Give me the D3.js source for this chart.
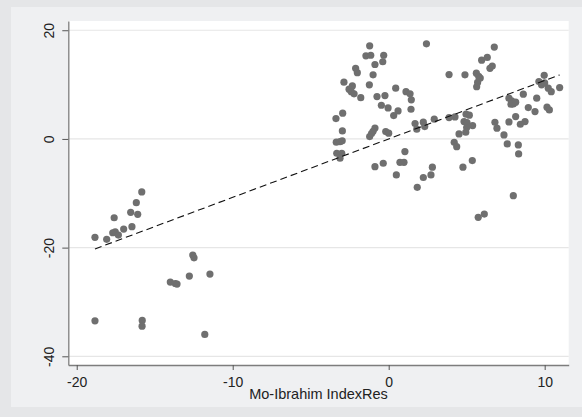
<!DOCTYPE html>
<html>
<head>
<meta charset="utf-8">
<script src="https://cdn.jsdelivr.net/npm/d3@7"></script>
<style>
  html, body { margin: 0; padding: 0; background: #e5e6e8; }
  svg { display: block; }
  text { font-family: "Liberation Sans", Arial, sans-serif; fill: #222; }
</style>
</head>
<body>
<svg id="chart" width="582" height="417"></svg>
<script>
// ---- data ----
const xValues = [
  // left group
  -18.83, -18.08, -17.6, -17.69, -17.53, -17.33, -16.99, -16.46, -16.54, -16.09, -16.18, -15.83,
  -18.83, -15.8, -15.81, -14.0, -13.68, -13.57, -12.78, -12.56, -12.48, -11.46, -11.79,
  // middle group
  2.42, -1.22, -1.46, -1.15, -0.32, -0.38, -0.88, -2.12, -2.01, -1.0, -2.87, -1.24,
  -2.33, -2.54, -2.4, -2.22, -1.79, -0.75, -0.24, 0.45, 1.11, 1.37, 1.45, -0.47,
  -0.04, 0.32, 0.6, 1.43, -3.38, -2.95, -2.97, -1.22, -1.1, -1.0, -0.88, -0.19,
  0.0, 1.69, 2.22, 2.31, 2.92, 1.8, -3.36, -3.12, -2.98, -3.33, -3.01, -3.12,
  1.04, -0.88, -0.35, 0.72, 0.98, 0.49, 2.8, 2.71, 2.22, 1.83,
  // right group
  6.77, 5.96, 6.32, 6.49, 6.64, 3.87, 4.89, 5.62, 5.77, 5.87, 5.7, 5.64,
  9.97, 9.63, 9.8, 10.0, 10.23, 10.42, 10.96, 8.63, 9.49, 7.71, 7.88, 7.99,
  7.84, 8.14, 8.95, 9.38, 10.15, 10.3, 8.14, 8.74, 8.44, 7.71, 6.81, 6.94,
  7.39, 7.6, 8.31, 8.33, 3.87, 4.25, 4.96, 5.17, 4.83, 5.02, 5.38, 5.0,
  4.94, 4.51, 4.2, 4.36, 4.76, 5.36, 7.99, 5.74, 6.13
];
const yValues = [
  // left group
  -18.1, -18.48, -14.5, -17.26, -17.08, -17.69, -16.58, -16.15, -13.5, -13.87, -11.73, -9.76,
  -33.47, -33.4, -34.45, -26.35, -26.6, -26.7, -25.24, -21.37, -21.87, -24.87, -35.98,
  // middle group
  17.5, 17.13, 15.3, 15.4, 15.4, 14.2, 13.7, 13.0, 12.2, 11.8, 10.44, 9.95,
  9.76, 9.16, 8.7, 8.3, 7.6, 7.8, 7.98, 9.33, 8.7, 8.3, 7.2, 6.2,
  5.7, 4.3, 5.16, 5.46, 3.75, 4.73, 1.47, 0.43, 1.0, 1.4, 2.0, 1.35,
  1.05, 2.82, 3.08, 2.27, 3.63, 1.8, -0.6, -0.5, -0.35, -2.64, -2.64, -3.56,
  -2.33, -5.1, -4.48, -4.3, -4.3, -6.63, -5.2, -6.63, -7.1, -8.9,
  // right group
  16.9, 14.5, 15.0, 13.0, 13.4, 11.85, 11.8, 12.1, 11.5, 11.2, 10.4, 9.6,
  11.7, 10.56, 9.95, 10.3, 9.34, 8.7, 9.45, 8.23, 7.5, 7.5, 7.0, 6.45,
  6.4, 6.76, 5.77, 5.03, 5.84, 5.34, 4.11, 3.19, 2.7, 3.13, 3.07, 1.97,
  0.74, -0.92, -1.1, -2.76, 3.93, 4.05, 4.55, 4.37, 3.19, 3.0, 2.45, 2.08,
  1.23, 0.92, -0.61, -1.42, -5.2, -3.99, -10.44, -14.43, -13.82
];
// fitted line
const fitIntercept = 0.0;
const fitSlope = 1.075;

const xTicks = [-20, -10, 0, 10];
const yTicks = [-40, -20, 0, 20];
const xTitle = "Mo-Ibrahim IndexRes";

// ---- layout ----
const W = 582, H = 417;
const plot = { left: 68.3, right: 568.7, top: 21, bottom: 365 };
const fmt = d => String(d); // plain hyphen-minus as in the reference

const svg = d3.select("#chart");

// background frame
svg.append("rect").attr("x", 0).attr("y", 0).attr("width", W).attr("height", H).attr("fill", "#e5e6e8");
svg.append("rect").attr("x", 11).attr("y", 7).attr("width", W - 11).attr("height", 400).attr("fill", "#eff0f2");

// plot region
svg.append("rect")
  .attr("x", plot.left).attr("y", plot.top)
  .attr("width", plot.right - plot.left).attr("height", plot.bottom - plot.top)
  .attr("fill", "#ffffff");

const x = d3.scaleLinear().domain([-20.54, 11.54]).range([plot.left, plot.right]);
const y = d3.scaleLinear().domain([-41.6, 21.7]).range([plot.bottom, plot.top]);

// gridlines
svg.append("g").selectAll("line").data(yTicks).join("line")
  .attr("x1", plot.left).attr("x2", plot.right)
  .attr("y1", d => y(d)).attr("y2", d => y(d))
  .attr("stroke", "#e6e6e6").attr("stroke-width", 1.2);

// points
const pts = xValues.map((v, i) => ({ x: v, y: yValues[i] }));
svg.append("g").selectAll("circle").data(pts).join("circle")
  .attr("cx", d => x(d.x)).attr("cy", d => y(d.y)).attr("r", 3.6)
  .attr("fill", "#6f6f6f");

// fitted line
const xr = d3.extent(xValues);
svg.append("line")
  .attr("x1", x(xr[0])).attr("y1", y(fitIntercept + fitSlope * xr[0]))
  .attr("x2", x(xr[1])).attr("y2", y(fitIntercept + fitSlope * xr[1]))
  .attr("stroke", "#111").attr("stroke-width", 1.1)
  .attr("stroke-dasharray", "7,4");

// axes
const xAxis = svg.append("g")
  .attr("transform", `translate(0,${plot.bottom})`)
  .call(d3.axisBottom(x).tickValues(xTicks).tickSize(5).tickSizeOuter(0).tickPadding(7)
    .tickFormat(fmt));
xAxis.select(".domain").attr("stroke", "#7d7d7d").attr("stroke-width", 1.3);
xAxis.selectAll(".tick line").attr("stroke", "#555");
xAxis.selectAll(".tick text").attr("font-size", 14).attr("fill", "#222")
  .attr("font-family", "Liberation Sans, Arial, sans-serif");

const yAxis = svg.append("g")
  .attr("transform", `translate(${plot.left},0)`)
  .call(d3.axisLeft(y).tickValues(yTicks).tickSize(6).tickSizeOuter(0)
    .tickFormat(fmt));
yAxis.select(".domain").attr("stroke", "#7d7d7d").attr("stroke-width", 1.3);
yAxis.selectAll(".tick line").attr("stroke", "#555");
yAxis.selectAll(".tick text")
  .attr("x", null).attr("dy", null)
  .attr("text-anchor", "middle")
  .attr("transform", "translate(-14,0) rotate(-90)")
  .attr("font-size", 14).attr("fill", "#222")
  .attr("font-family", "Liberation Sans, Arial, sans-serif");

// axis title
svg.append("text")
  .attr("x", (plot.left + plot.right) / 2).attr("y", 399)
  .attr("text-anchor", "middle").attr("font-size", 14.5)
  .text(xTitle);
</script>
</body>
</html>
